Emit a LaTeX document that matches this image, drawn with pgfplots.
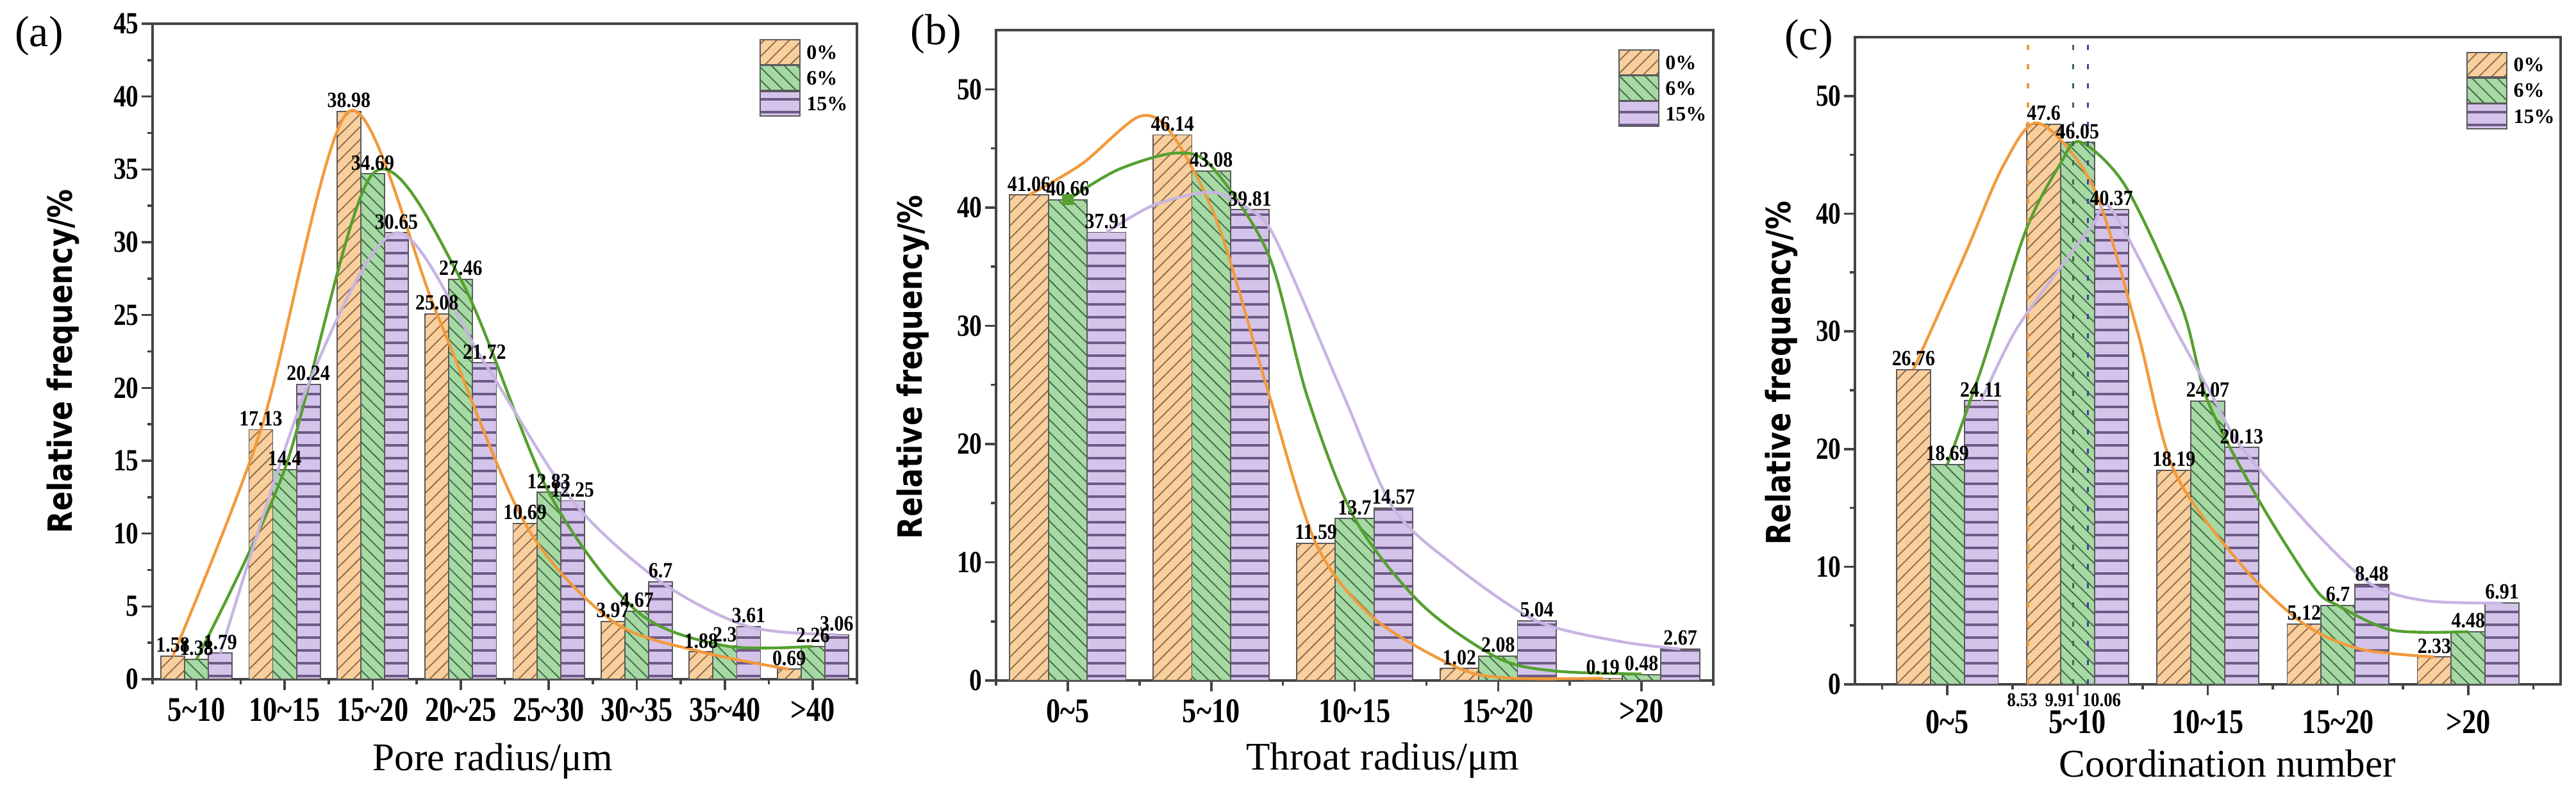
\documentclass[border=0pt]{standalone}
\usepackage{fontspec}
\setmainfont{Liberation Serif}
\newfontfamily\cnA[FakeStretch=0.82]{Liberation Serif}
\newfontfamily\cnB[FakeStretch=0.88]{Liberation Serif}
\newfontfamily\ylfam[FakeStretch=0.86]{DejaVu Sans}
\usepackage{pgfplots}
\pgfplotsset{compat=1.18}
\usepackage{pgfplotstable}
\usetikzlibrary{patterns.meta}

\definecolor{oFill}{HTML}{F9CF9E}
\definecolor{gFill}{HTML}{A6D9A3}
\definecolor{pFill}{HTML}{D5C4EA}
\definecolor{oHatch}{HTML}{8B6B4A}
\definecolor{gHatch}{HTML}{3E6B45}
\definecolor{pHatch}{HTML}{6E5A86}
\definecolor{oLine}{HTML}{F29A3C}
\definecolor{gLine}{HTML}{55A030}
\definecolor{pLine}{HTML}{C8B4E2}
\definecolor{gDash}{HTML}{3D6B3D}
\definecolor{bDash}{HTML}{4A3C9C}
\definecolor{edge}{HTML}{5A5A5A}
\definecolor{axc}{HTML}{444444}

\newcommand\xtf{\cnA\bfseries\fontsize{13.5}{14}\selectfont}
\newcommand\ytf{\cnA\bfseries\fontsize{12}{13}\selectfont}
\newcommand\vlf{\cnB\bfseries\fontsize{8.5}{9}\selectfont}
\newcommand\slf{\cnB\bfseries\fontsize{7.6}{8}\selectfont}
\newcommand\lgf{\bfseries\fontsize{8}{9}\selectfont}
\newcommand\xlf{\fontsize{15.3}{16}\selectfont}
\newcommand\ylabf{\ylfam\bfseries\fontsize{13}{14}\selectfont}

\pgfplotstableread{
x A B C
0 1.58 1.38 1.79
1 17.13 14.4 20.24
2 38.98 34.69 30.65
3 25.08 27.46 21.72
4 10.69 12.83 12.25
5 3.97 4.67 6.7
6 1.88 2.3 3.61
7 0.69 2.26 3.06
}\poreTab
\pgfplotstableread{
x A B C
0 41.06 40.66 37.91
1 46.14 43.08 39.81
2 11.59 13.7 14.57
3 1.02 2.08 5.04
4 0.19 0.48 2.67
}\throatTab
\pgfplotstableread{
x A B C
0 26.76 18.69 24.11
1 47.6 46.05 40.37
2 18.19 24.07 20.13
3 5.12 6.7 8.48
4 2.33 4.48 6.91
}\coordTab

\pgfplotsset{
 base/.style={
   scale only axis, anchor=south west, clip=false,
   axis line style={draw=axc, line width=0.9pt},
   xtick pos=bottom, ytick pos=left, tick align=outside,
   major tick length=4.2pt, minor tick length=2pt,
   every tick/.style={draw=axc, line width=0.9pt},
   /pgf/number format/assume math mode=true,
   yticklabel style={font=\ytf, inner sep=1pt},
   xticklabel style={font=\xtf, inner sep=0pt, yshift=-3pt},
   xlabel style={font=\xlf},
   ylabel style={font=\ylabf},
   legend style={draw=none, fill=none, inner sep=0pt, row sep=0pt, column sep=2pt,
     nodes={inner sep=0.4pt, text depth=0pt}, font=\lgf, anchor=north west, cells={anchor=west}},
   ymin=0,
 },
 vals/.style={nodes near coords, every node near coord/.append style={font=\vlf, inner sep=1.2pt, text=black}},
 limg/.style={legend image code/.code={\draw[##1] (0pt,-4.8pt) rectangle (15.5pt,4.8pt);}},
 barA/.style={ybar, bar width=#1, bar shift=0pt, fill=oFill, draw=edge, line width=0.45pt,
   postaction={pattern={Lines[angle=45,distance=3.5pt,line width=0.45pt]},pattern color=oHatch},
   limg, vals},
 barB/.style={ybar, bar width=#1, bar shift=0pt, fill=gFill, draw=edge, line width=0.45pt,
   postaction={pattern={Lines[angle=-45,distance=3.5pt,line width=0.45pt]},pattern color=gHatch},
   limg, vals},
 barC/.style={ybar, bar width=#1, bar shift=0pt, fill=pFill, draw=edge, line width=0.45pt,
   postaction={pattern={Lines[angle=0,distance=5pt,line width=0.9pt]},pattern color=pHatch},
   limg, vals},
 crv/.style={smooth, line width=1.1pt, forget plot, no markers},
}

\begin{document}
\begin{tikzpicture}
\useasboundingbox (0,0) rectangle (1004.75pt,308.75pt);

\node[font=\fontsize{17}{18}\selectfont] at (15.25pt,294.75pt) {(a)};
\node[font=\fontsize{17}{18}\selectfont] at (365pt,295.5pt) {(b)};
\node[font=\fontsize{17}{18}\selectfont] at (705.5pt,293.5pt) {(c)};

% ---------------- (a)
\begin{axis}[base, at={(59.5pt,43.75pt)}, width=274.75pt, height=255.75pt,
  xmin=-0.5, xmax=7.5, ymax=45,
  xtick={0,...,7},
  xticklabels={5\textasciitilde10,10\textasciitilde15,15\textasciitilde20,20\textasciitilde25,25\textasciitilde30,30\textasciitilde35,35\textasciitilde40,>40},
  minor xtick={-0.5,0.5,...,7.5},
  ytick={0,5,...,45}, minor ytick={2.5,7.5,...,42.5},
  xlabel={Pore radius/μm}, ylabel={Relative frequency/\%},
  xlabel style={at={(axis description cs:0.483,-0.125)}, anchor=center},
  ylabel style={at={(axis description cs:-0.127,0.485)}, anchor=center},
  legend style={at={(0.861,0.977)}},
]
\addplot[barA=0.27] table[x expr=\thisrow{x}-0.27,y=A]{\poreTab}; \addlegendentry{0\%}
\addplot[barB=0.27] table[x=x,y=B]{\poreTab}; \addlegendentry{6\%}
\addplot[barC=0.27] table[x expr=\thisrow{x}+0.27,y=C]{\poreTab}; \addlegendentry{15\%}
\addplot[crv, color=oLine] coordinates {(-0.27,1.58)(0.73,17.13)(1.73,38.98)(2.73,25.08)(3.73,10.69)(4.73,3.97)(5.73,1.88)(6.73,0.69)};
\addplot[crv, color=gLine] coordinates {(0,1.38)(1,14.4)(2,34.69)(3,27.46)(4,12.83)(5,4.67)(6,2.3)(7,2.26)};
\addplot[crv, color=pLine] coordinates {(0.27,1.79)(1.27,20.24)(2.27,30.65)(3.27,21.72)(4.27,12.25)(5.27,6.7)(6.27,3.61)(7.27,3.06)};
\end{axis}

% ---------------- (b)
\begin{axis}[base, at={(388.5pt,43.25pt)}, width=279.75pt, height=253.75pt,
  xmin=-0.5, xmax=4.5, ymax=55,
  xtick={0,...,4},
  xticklabels={0\textasciitilde5,5\textasciitilde10,10\textasciitilde15,15\textasciitilde20,>20},
  minor xtick={-0.5,0.5,...,4.5},
  ytick={0,10,...,50}, minor ytick={5,15,...,45},
  xlabel={Throat radius/μm}, ylabel={Relative frequency/\%},
  xlabel style={at={(axis description cs:0.539,-0.123)}, anchor=center},
  ylabel style={at={(axis description cs:-0.116,0.482)}, anchor=center},
  legend style={at={(0.867,0.971)}},
]
\addplot[barA=0.27] table[x expr=\thisrow{x}-0.27,y=A]{\throatTab}; \addlegendentry{0\%}
\addplot[barB=0.27] table[x=x,y=B]{\throatTab}; \addlegendentry{6\%}
\addplot[barC=0.27] table[x expr=\thisrow{x}+0.27,y=C]{\throatTab}; \addlegendentry{15\%}
\addplot[crv, color=oLine] coordinates {(-0.27,41.06)(0.1,43.7)(0.5,47.7)(0.73,46.14)(1.05,38.5)(1.4,24.3)(1.73,11.59)(2.13,5.3)(2.73,1.02)(3.1,0.2)(3.73,0.19)};
\addplot[crv, color=gLine] coordinates {(0,40.66)(0.35,43.2)(0.75,44.6)(1.0,43.5)(1.4,36)(1.67,24)(2,13.7)(2.47,6.4)(3,1.9)(3.4,0.8)(4,0.55)};
\addplot[crv, color=pLine] coordinates {(0.27,37.91)(0.6,40.2)(1.0,41.3)(1.27,39.81)(1.45,37.3)(1.93,23.9)(2.27,14.57)(2.7,9.7)(3.27,5.04)(3.85,3.3)(4.27,2.67)};
\addplot[only marks, mark=square*, mark size=2pt, color=gLine, forget plot] coordinates {(0,40.66)};
\end{axis}

% ---------------- (c)
\begin{axis}[base, at={(723.5pt,41.75pt)}, width=275.25pt, height=252.5pt,
  xmin=-0.71, xmax=4.71, ymax=55,
  xtick={0,...,4},
  xticklabels={0\textasciitilde5,5\textasciitilde10,10\textasciitilde15,15\textasciitilde20,>20},
  xticklabel style={yshift=-2.8pt},
  minor xtick={-0.5,0.5,...,4.5},
  ytick={0,10,...,50}, minor ytick={5,15,...,45},
  xlabel={Coordination number}, ylabel={Relative frequency/\%},
  xlabel style={at={(axis description cs:0.528,-0.122)}, anchor=center},
  ylabel style={at={(axis description cs:-0.104,0.481)}, anchor=center},
  legend style={at={(0.866,0.978)}},
]
\addplot[barA=0.26] table[x expr=\thisrow{x}-0.26,y=A]{\coordTab}; \addlegendentry{0\%}
\addplot[barB=0.26] table[x=x,y=B]{\coordTab}; \addlegendentry{6\%}
\addplot[barC=0.26] table[x expr=\thisrow{x}+0.26,y=C]{\coordTab}; \addlegendentry{15\%}
\addplot[crv, color=oLine] coordinates {(-0.26,26.76)(0.13,36.4)(0.43,44.1)(0.7,47.7)(1.12,42.3)(1.46,30)(1.74,18.19)(2.27,10.0)(2.74,5.12)(3.17,3.0)(3.74,2.33)};
\addplot[crv, color=gLine] coordinates {(0,18.69)(0.26,26.8)(0.6,38.5)(0.86,44.1)(1.02,46.1)(1.37,42.3)(1.8,32.1)(2,24.07)(2.4,15.5)(2.82,8.2)(3,6.7)(3.42,4.6)(4,4.48)};
\addplot[crv, color=pLine] coordinates {(0.26,24.11)(0.52,30)(0.86,35.3)(1.12,39.1)(1.26,40.37)(1.76,30)(2.05,24.2)(2.26,20.13)(2.82,13)(3.26,8.48)(3.68,7.1)(4.26,6.91)};
\addplot[forget plot, color=oLine, line width=0.9pt, dash pattern=on 2pt off 5.5pt] coordinates {(0.62,0)(0.62,55)};
\addplot[forget plot, color=gDash, line width=0.9pt, dash pattern=on 2pt off 5.5pt] coordinates {(0.966,0)(0.966,55)};
\addplot[forget plot, color=bDash, line width=0.9pt, dash pattern=on 2pt off 5.5pt] coordinates {(1.08,0)(1.08,55)};
\node[font=\slf, yshift=-6.2pt] at (axis cs:0.575,0) {8.53};
\node[font=\slf, yshift=-6.2pt] at (axis cs:0.865,0) {9.91};
\node[font=\slf, yshift=-6.2pt] at (axis cs:1.185,0) {10.06};
\end{axis}
\end{tikzpicture}
\end{document}
